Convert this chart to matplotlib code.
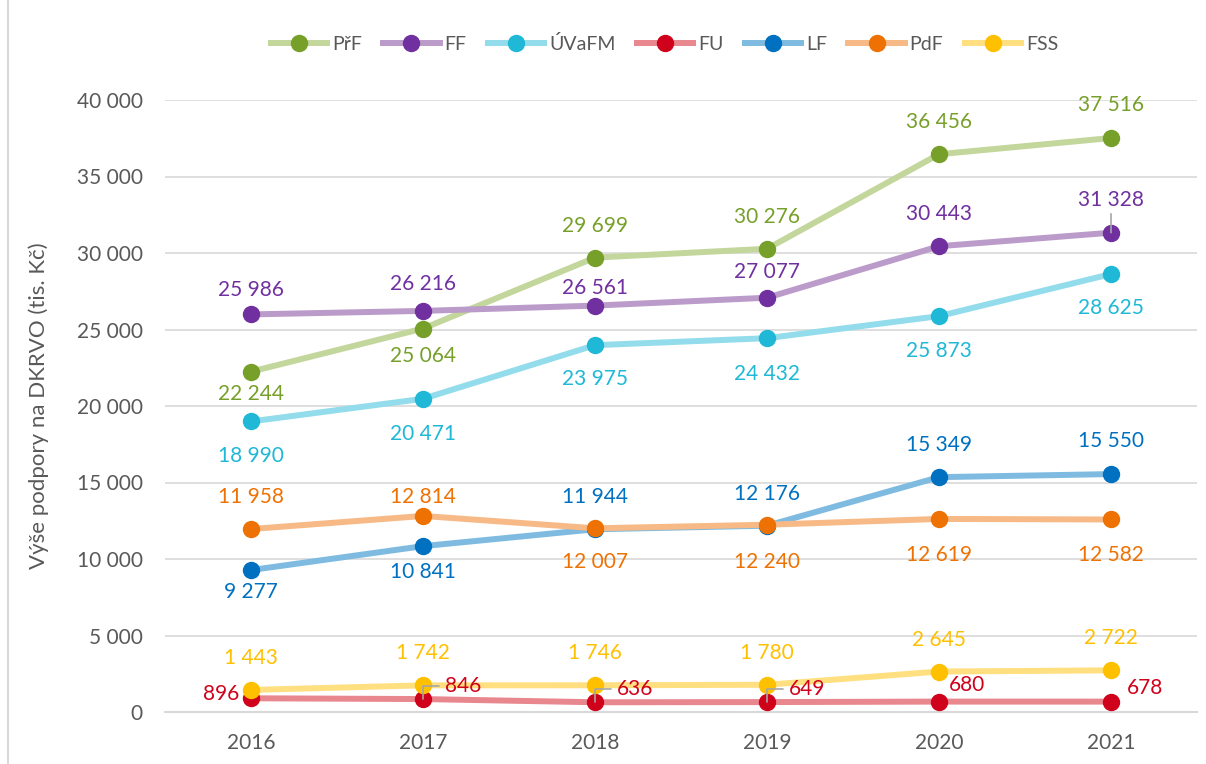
import matplotlib.pyplot as plt
from matplotlib.lines import Line2D
from matplotlib.ticker import FuncFormatter

plt.rcParams['font.family'] = ['Lato', 'DejaVu Sans']

years = ['2016', '2017', '2018', '2019', '2020', '2021']
series = ['PřF', 'FF', 'ÚVaFM', 'FU', 'LF', 'PdF', 'FSS']

prf = [22244, 25064, 29699, 30276, 36456, 37516]
ff = [25986, 26216, 26561, 27077, 30443, 31328]
uvafm = [18990, 20471, 23975, 24432, 25873, 28625]
fu = [896, 846, 636, 649, 680, 678]
lf = [9277, 10841, 11944, 12176, 15349, 15550]
pdf = [11958, 12814, 12007, 12240, 12619, 12582]
fss = [1443, 1742, 1746, 1780, 2645, 2722]

values = [prf, ff, uvafm, fu, lf, pdf, fss]
line_colors = ['#c3d69b', '#bb9bc9', '#93dcec', '#e9878f', '#7fbbe0', '#f7b985', '#ffdf80']
dot_colors = ['#77a02a', '#7030a0', '#1fb8d6', '#d0021b', '#0070c0', '#ee7203', '#ffc000']

# posun popisku v pixelech (dx, dy), kladne dy = nahoru
offsets = [
    [(0, -22), (0, -27), (0, 32), (0, 32), (0, 32), (0, 33)],
    [(0, 24), (0, 27), (0, 18), (0, 26), (0, 32), (0, 33)],
    [(0, -35), (0, -35), (0, -34), (0, -36), (0, -35), (0, -34)],
    [(-12, 4), (22, 13), (22, 13), (22, 13), (10, 17), (16, 14)],
    [(0, -22), (0, -26), (0, 32), (0, 32), (0, 32), (0, 33)],
    [(0, 32), (0, 19), (0, -34), (0, -37), (0, -36), (0, -36)],
    [(0, 32), (0, 32), (0, 32), (0, 32), (0, 32), (0, 32)],
]
angled = {(3, 1), (3, 2), (3, 3)}
straight = {(1, 5)}

def fmt(v):
    return f'{v:,.0f}'.replace(',', '\u00a0')

fig = plt.figure(figsize=(12.06, 7.64), dpi=100)
ax = fig.add_axes([165 / 1206, 1 - 712 / 764, 1032 / 1206, 612 / 764])
x = list(range(len(years)))

for i, name in enumerate(series):
    ax.plot(x, values[i], color=line_colors[i], lw=4.3, solid_capstyle='round',
            marker='o', ms=11.5, mfc=dot_colors[i], mec=dot_colors[i], zorder=3 + i,
            label=name)
    for j, v in enumerate(values[i]):
        dx, dy = offsets[i][j]
        ha = 'center'
        if i == 3:
            ha = 'right' if j == 0 else 'left'
        ap = None
        if (i, j) in angled:
            ap = dict(arrowstyle='-', color='#a6a6a6', lw=1.2, shrinkA=2, shrinkB=0,
                      connectionstyle='angle,angleA=0,angleB=90,rad=0')
        elif (i, j) in straight:
            ap = dict(arrowstyle='-', color='#a6a6a6', lw=1.2, shrinkA=1, shrinkB=0)
        ax.annotate(fmt(v), (j, v), xytext=(dx * 0.72, dy * 0.72), textcoords='offset points',
                    ha=ha, va='center', fontsize=15, color=dot_colors[i], zorder=20,
                    arrowprops=ap)

ax.set_xlim(-0.5, 5.5)
ax.set_ylim(0, 40000)
ax.set_yticks(range(0, 40001, 5000))
ax.yaxis.set_major_formatter(FuncFormatter(lambda v, p: fmt(v)))
ax.set_xticks(x)
ax.set_xticklabels(years)
ax.grid(axis='y', color='#d9d9d9', lw=1.2)
ax.set_axisbelow(True)
for s in ['top', 'right', 'left']:
    ax.spines[s].set_visible(False)
ax.spines['bottom'].set_color('#d9d9d9')
ax.spines['bottom'].set_linewidth(1.5)
ax.tick_params(length=0, labelsize=15, labelcolor='#595959')
ax.tick_params(axis='x', pad=15)
ax.tick_params(axis='y', pad=16)
ax.set_ylabel('Výše podpory na DKRVO (tis. Kč)', fontsize=16, color='#595959')
ax.yaxis.set_label_coords(-0.112, 0.5)

handles = [Line2D([0], [0], color=line_colors[i], lw=4.3, marker='o', ms=11.5,
                  mfc=dot_colors[i], mec=dot_colors[i]) for i in range(len(series))]
fig.legend(handles, series, loc='center', bbox_to_anchor=(0.551, 1 - 44 / 764), ncol=7,
           frameon=False, fontsize=14, handlelength=2.9, columnspacing=1.1,
           handletextpad=0.25, labelcolor='#595959')

fig.add_artist(Line2D([8 / 1206, 8 / 1206], [0, 1], color='#d9d9d9', lw=1.5))

fig.savefig('out.png', dpi=100)
